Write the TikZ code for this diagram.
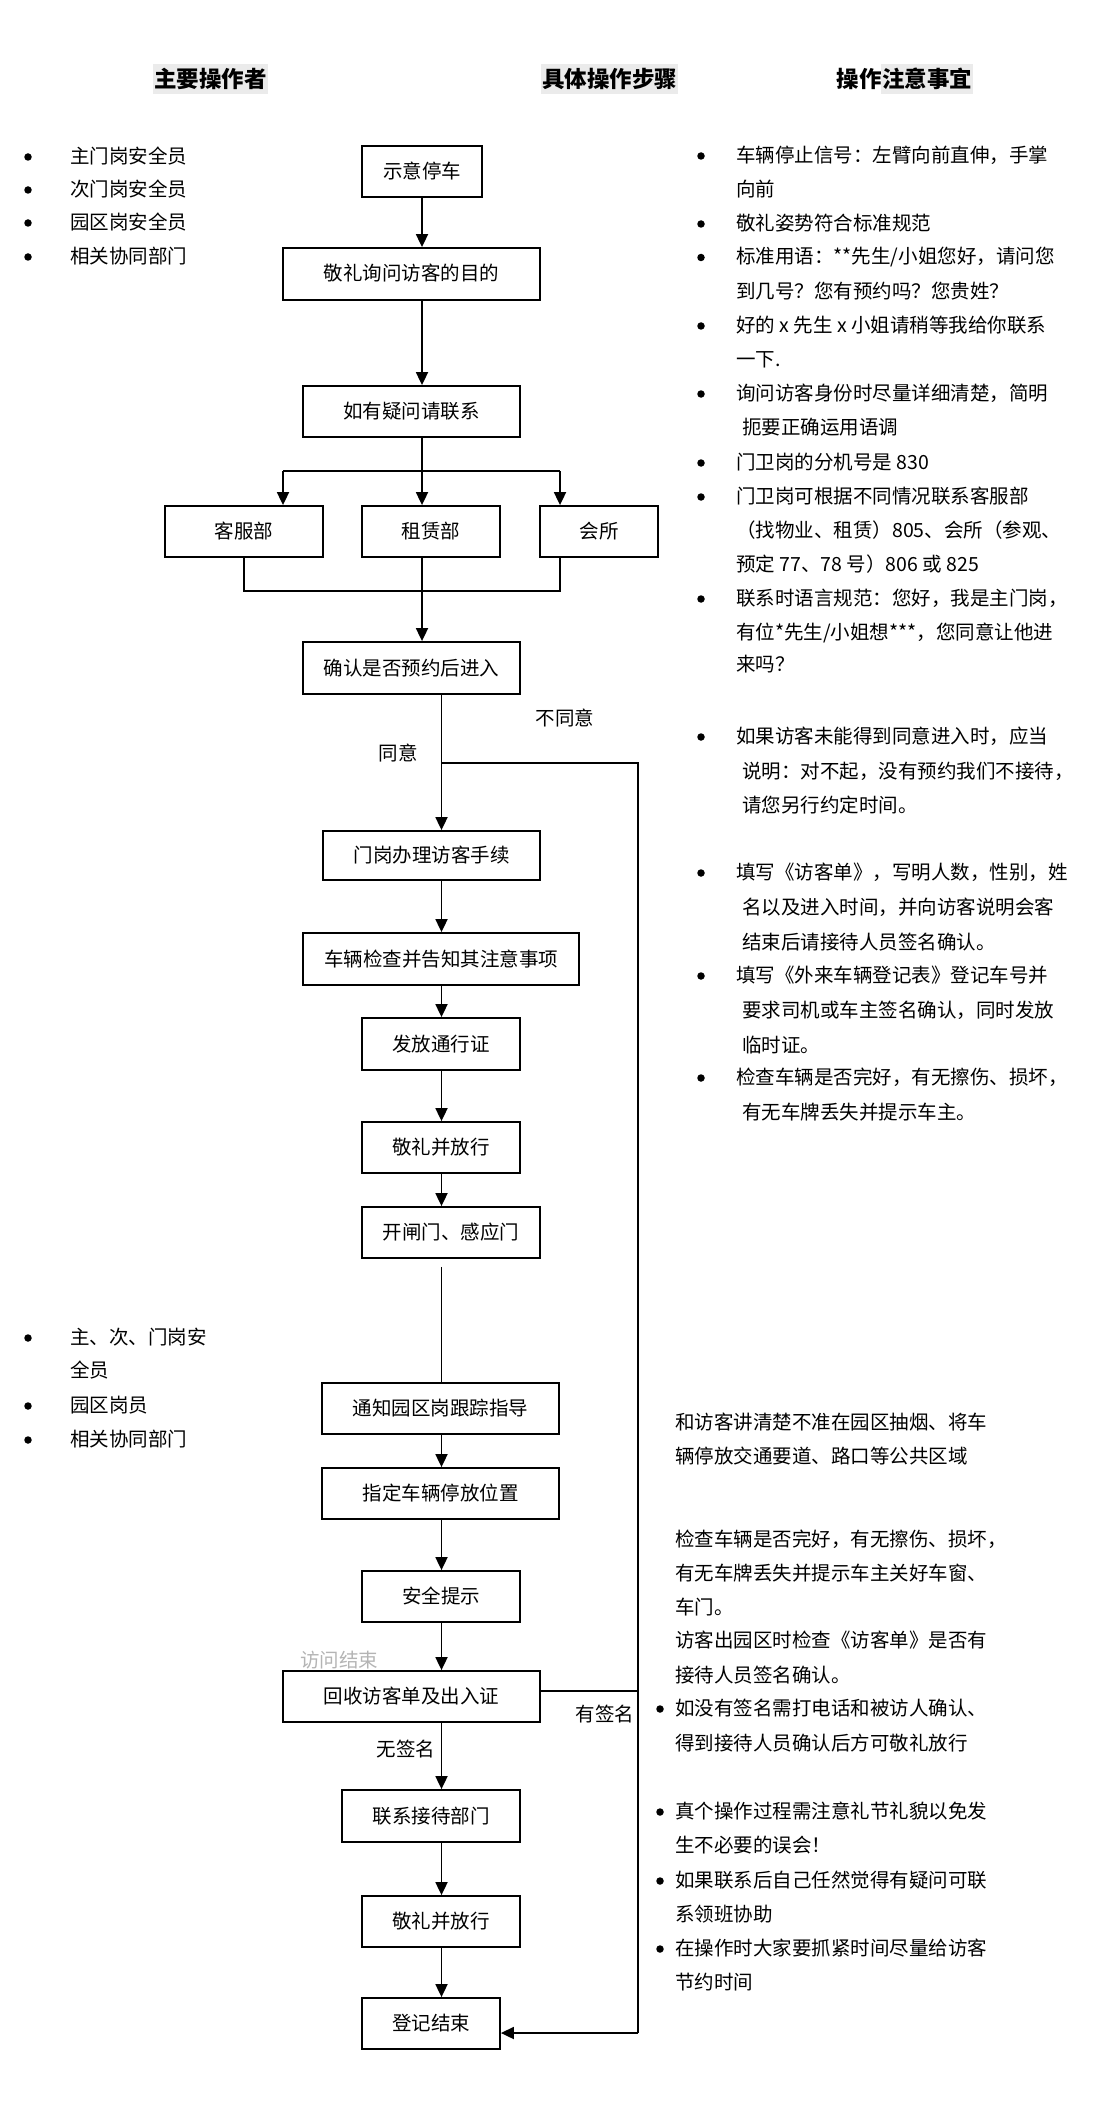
\documentclass[tikz,border=0pt]{standalone}
\usepackage{fontspec}
\setmainfont{Noto Sans CJK SC}
\usetikzlibrary{arrows.meta}
\definecolor{hgrey}{HTML}{EBEBEB}
\definecolor{lgrey}{HTML}{B4B4B4}
\newcommand\fsbody{\fontsize{19.5pt}{23pt}\selectfont}
\newcommand\fshead{\fontsize{22.5pt}{26pt}\selectfont\bfseries}
\begin{document}
\begin{tikzpicture}[x=1pt,y=-1pt,
  box/.style={draw, line width=1.8pt, inner sep=0pt, font=\fsbody, text height=17pt, text depth=3pt},
  ln/.style={line width=1.8pt},
  arr/.style={line width=1.8pt, -{Triangle[length=13pt,width=12pt]}},
  txt/.style={anchor=west, inner sep=0pt, font=\fsbody, text height=16pt, text depth=3pt},
  lbl/.style={inner sep=0pt, font=\fsbody, text height=16pt, text depth=3pt},
  hdr/.style={inner xsep=1pt, inner ysep=0pt, font=\fshead, minimum height=30pt},
  bul/.style={circle, fill=black, inner sep=0pt, minimum size=7.5pt}]
\useasboundingbox (0,0) rectangle (1100,2116);

% headers
\node[hdr, fill=hgrey] (h1) at (210.5,79) {主要操作者};
\node[hdr, fill=hgrey] (h2) at (609.5,79) {具体操作步骤};
\node[hdr] (h3a) at (859,79) {操作};
\node[hdr, fill=hgrey] (h3b) at (927,79) {注意事宜};

% left column top
\node[bul] (lb1) at (28,157) {}; \node[txt] (l1) at (70,157) {主门岗安全员};
\node[bul] (lb2) at (28,190) {}; \node[txt] (l2) at (70,190) {次门岗安全员};
\node[bul] (lb3) at (28,223) {}; \node[txt] (l3) at (70,223) {园区岗安全员};
\node[bul] (lb4) at (28,257) {}; \node[txt] (l4) at (70,257) {相关协同部门};

% left column bottom
\node[bul] (lb5) at (28,1338) {}; \node[txt] (l5) at (70,1338) {主、次、门岗安};
\node[txt] (l6) at (70,1371) {全员};
\node[bul] (lb7) at (28,1406) {}; \node[txt] (l7) at (70,1406) {园区岗员};
\node[bul] (lb8) at (28,1440) {}; \node[txt] (l8) at (70,1440) {相关协同部门};

% flow boxes
\node[box, minimum width=120pt, minimum height=51pt] (n1) at (422,171.5) {示意停车};
\node[box, minimum width=257pt, minimum height=52pt] (n2) at (411.5,274) {敬礼询问访客的目的};
\node[box, minimum width=217pt, minimum height=51pt] (n3) at (411.5,411.5) {如有疑问请联系};
\node[box, minimum width=158pt, minimum height=51pt] (kf) at (244,531.5) {客服部};
\node[box, minimum width=138pt, minimum height=51pt] (zl) at (431,531.5) {租赁部};
\node[box, minimum width=118pt, minimum height=51pt] (hsu) at (599,531.5) {会所};
\node[box, minimum width=217pt, minimum height=52pt] (qr) at (411.5,668) {确认是否预约后进入};
\node[box, minimum width=217pt, minimum height=49pt] (mg) at (431.5,855.5) {门岗办理访客手续};
\node[box, minimum width=276pt, minimum height=52pt] (cl) at (441,959) {车辆检查并告知其注意事项};
\node[box, minimum width=158pt, minimum height=52pt] (ff) at (441,1044) {发放通行证};
\node[box, minimum width=158pt, minimum height=51pt] (jl) at (441,1147.5) {敬礼并放行};
\node[box, minimum width=178pt, minimum height=51pt] (kz) at (451,1232.5) {开闸门、感应门};
\node[box, minimum width=237pt, minimum height=51pt] (tz) at (440.5,1408.5) {通知园区岗跟踪指导};
\node[box, minimum width=237pt, minimum height=51pt] (zd) at (440.5,1493.5) {指定车辆停放位置};
\node[box, minimum width=158pt, minimum height=51pt] (aq) at (441,1596.5) {安全提示};
\node[box, minimum width=257pt, minimum height=51pt] (hs) at (411.5,1696.5) {回收访客单及出入证};
\node[box, minimum width=178pt, minimum height=52pt] (lx) at (431,1816) {联系接待部门};
\node[box, minimum width=158pt, minimum height=51pt] (jl2) at (441,1921.5) {敬礼并放行};
\node[box, minimum width=138pt, minimum height=51pt] (dj) at (431,2023.5) {登记结束};

% labels
\node[lbl] (t1) at (565,719) {不同意};
\node[lbl] (t2) at (398,754) {同意};
\node[lbl, text=lgrey] (t3) at (339,1661) {访问结束};
\node[lbl] (t4) at (605,1715) {有签名};
\node[lbl] (t5) at (406,1750) {无签名};

% coordinates
\coordinate (bL) at (283,471);
\coordinate (bM) at (422,471);
\coordinate (bR) at (560,471);
\coordinate (mL) at (244,591);
\coordinate (mR) at (560,591);
\coordinate (nd) at (441.5,763);
\coordinate (ndR) at (638,763);
\coordinate (endR) at (638,2033);
\coordinate (hsy) at (638,1691);
\coordinate (kzb) at ([yshift=-8pt]kz.south);

% connectors
\draw[arr] (n1.south -| bM) -- (n2.north -| bM);
\draw[arr] (n2.south -| bM) -- (n3.north -| bM);
\draw[ln] (n3.south -| bM) -- (bM);
\draw[ln] (bL) -- (bR);
\draw[arr] (bL) -- (kf.north -| bL);
\draw[arr] (bM) -- (zl.north -| bM);
\draw[arr] (bR) -- (hsu.north -| bR);
\draw[ln] (kf.south) -- (mL) -- (mR) -- (hsu.south -| mR);
\draw[arr] (zl.south -| bM) -- (qr.north -| bM);
\draw[arr] (qr.south -| nd) -- (mg.north -| nd);
\draw[ln] (nd) -- (ndR) -- (endR);
\draw[arr] (endR) -- (dj.east |- endR);
\draw[arr] (mg.south -| nd) -- (cl.north -| nd);
\draw[arr] (cl.south -| nd) -- (ff.north -| nd);
\draw[arr] (ff.south -| nd) -- (jl.north -| nd);
\draw[arr] (jl.south -| nd) -- (kz.north -| nd);
\draw[ln] (kzb -| nd) -- (tz.north -| nd);
\draw[arr] (tz.south -| nd) -- (zd.north -| nd);
\draw[arr] (zd.south -| nd) -- (aq.north -| nd);
\draw[arr] (aq.south -| nd) -- (hs.north -| nd);
\draw[ln] (hs.east |- hsy) -- (hsy);
\draw[arr] (hs.south -| nd) -- (lx.north -| nd);
\draw[arr] (lx.south -| nd) -- (jl2.north -| nd);
\draw[arr] (jl2.south -| nd) -- (dj.north -| nd);

% right column top
\node[bul] (rb1) at (701,156) {}; \node[txt] (r1) at (736,156) {车辆停止信号：左臂向前直伸，手掌};
\node[txt] (r2) at (736,190) {向前};
\node[bul] (rb3) at (701,224) {}; \node[txt] (r3) at (736,224) {敬礼姿势符合标准规范};
\node[bul] (rb4) at (701,257.5) {}; \node[txt] (r4) at (736,257.5) {标准用语：**先生/小姐您好，请问您};
\node[txt] (r5) at (736,292) {到几号？您有预约吗？您贵姓？};
\node[bul] (rb6) at (701,326) {}; \node[txt] (r6) at (736,326) {好的 x 先生 x 小姐请稍等我给你联系};
\node[txt] (r7) at (736,360) {一下.};
\node[bul] (rb8) at (701,394) {}; \node[txt] (r8) at (736,394) {询问访客身份时尽量详细清楚，简明};
\node[txt] (r9) at (742,428) {扼要正确运用语调};
\node[bul] (rb10) at (701,463) {}; \node[txt] (r10) at (736,463) {门卫岗的分机号是 830};
\node[bul] (rb11) at (701,497) {}; \node[txt] (r11) at (736,497) {门卫岗可根据不同情况联系客服部};
\node[txt] (r12) at (736,531) {（找物业、租赁）805、会所（参观、};
\node[txt] (r13) at (736,565) {预定 77、78 号）806 或 825};
\node[bul] (rb14) at (701,599) {}; \node[txt] (r14) at (736,599) {联系时语言规范：您好，我是主门岗，};
\node[txt] (r15) at (736,632.5) {有位*先生/小姐想***，您同意让他进};
\node[txt] (r16) at (736,665) {来吗？};

% right column middle
\node[bul] (rb17) at (701,737) {}; \node[txt] (r17) at (736,737) {如果访客未能得到同意进入时，应当};
\node[txt] (r18) at (742,772) {说明：对不起，没有预约我们不接待，};
\node[txt] (r19) at (742,806) {请您另行约定时间。};
\node[bul] (rb20) at (701,873) {}; \node[txt] (r20) at (736,873) {填写《访客单》，写明人数，性别，姓};
\node[txt] (r21) at (742,908) {名以及进入时间，并向访客说明会客};
\node[txt] (r22) at (742,943) {结束后请接待人员签名确认。};
\node[bul] (rb23) at (701,976) {}; \node[txt] (r23) at (736,976) {填写《外来车辆登记表》登记车号并};
\node[txt] (r24) at (742,1011) {要求司机或车主签名确认，同时发放};
\node[txt] (r25) at (742,1046) {临时证。};
\node[bul] (rb26) at (701,1078) {}; \node[txt] (r26) at (736,1078) {检查车辆是否完好，有无擦伤、损坏，};
\node[txt] (r27) at (742,1113) {有无车牌丢失并提示车主。};

% right column bottom
\node[txt] (s1) at (675,1423) {和访客讲清楚不准在园区抽烟、将车};
\node[txt] (s2) at (675,1457) {辆停放交通要道、路口等公共区域};
\node[txt] (s3) at (675,1540) {检查车辆是否完好，有无擦伤、损坏，};
\node[txt] (s4) at (675,1574) {有无车牌丢失并提示车主关好车窗、};
\node[txt] (s5) at (675,1608) {车门。};
\node[txt] (s6) at (675,1641) {访客出园区时检查《访客单》是否有};
\node[txt] (s7) at (675,1676) {接待人员签名确认。};
\node[bul] (sb8) at (660,1709) {}; \node[txt] (s8) at (675,1709) {如没有签名需打电话和被访人确认、};
\node[txt] (s9) at (675,1744) {得到接待人员确认后方可敬礼放行};
\node[bul] (sb10) at (660,1812) {}; \node[txt] (s10) at (675,1812) {真个操作过程需注意礼节礼貌以免发};
\node[txt] (s11) at (675,1846) {生不必要的误会！};
\node[bul] (sb12) at (660,1881) {}; \node[txt] (s12) at (675,1881) {如果联系后自己任然觉得有疑问可联};
\node[txt] (s13) at (675,1915) {系领班协助};
\node[bul] (sb14) at (660,1949) {}; \node[txt] (s14) at (675,1949) {在操作时大家要抓紧时间尽量给访客};
\node[txt] (s15) at (675,1983) {节约时间};
\end{tikzpicture}
\end{document}
